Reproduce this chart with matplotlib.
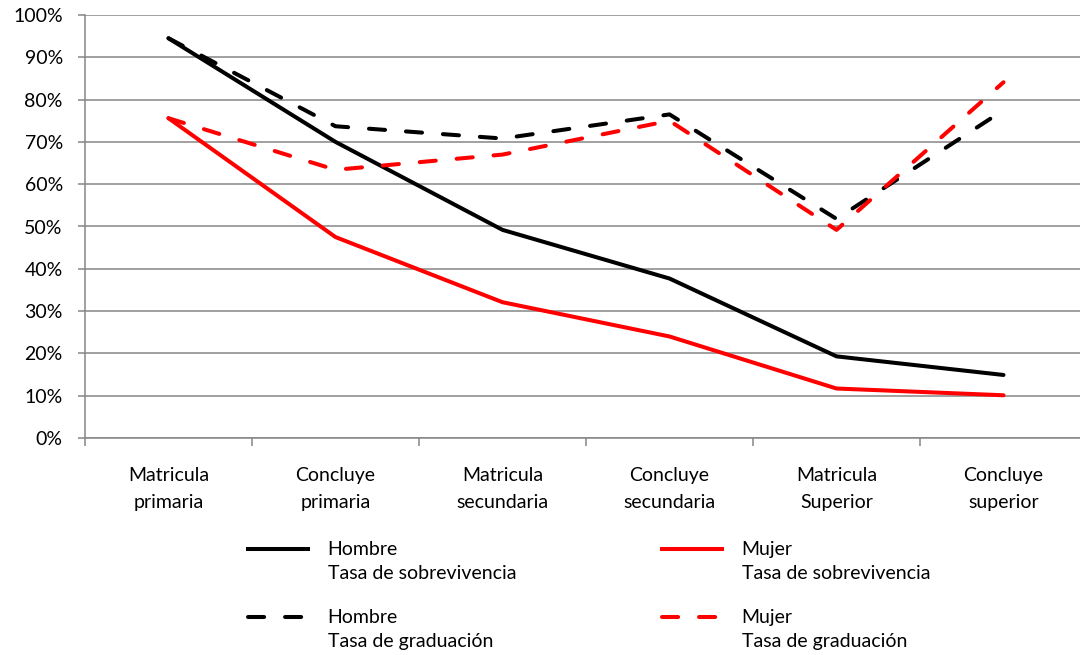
import numpy as np
import matplotlib
matplotlib.use("Agg")
import matplotlib.pyplot as plt
from matplotlib.lines import Line2D
from matplotlib.legend_handler import HandlerLine2D

plt.rcParams['font.family'] = ['Lato', 'DejaVu Sans']

# datos (en %)
categorias = ["Matricula\nprimaria", "Concluye\nprimaria", "Matricula\nsecundaria",
              "Concluye\nsecundaria", "Matricula\nSuperior", "Concluye\nsuperior"]
hombre_sobrev = [94.5, 70.0, 49.2, 37.7, 19.3, 14.9]
mujer_sobrev = [75.6, 47.5, 32.1, 24.0, 11.7, 10.1]
hombre_grad = [94.5, 73.7, 70.8, 76.5, 51.8, 77.5]
mujer_grad = [75.6, 63.4, 67.0, 75.0, 49.2, 84.1]

etiquetas = ["Hombre\nTasa de sobrevivencia", "Mujer\nTasa de sobrevivencia",
             "Hombre\nTasa de graduación", "Mujer\nTasa de graduación"]

GRIS = "#868686"
ROJO = "#ff0000"
DASH = (4, 5.2)


# la línea de la leyenda va a la altura de la primera línea del texto
class HandlerArriba(HandlerLine2D):
    def __init__(self, dy, **kw):
        super().__init__(**kw)
        self.dy = dy

    def create_artists(self, legend, orig_handle, xdescent, ydescent,
                       width, height, fontsize, trans):
        arts = super().create_artists(legend, orig_handle, xdescent, ydescent,
                                      width, height, fontsize, trans)
        for a in arts:
            a.set_ydata(np.asarray(a.get_ydata()) + self.dy)
        return arts


fig = plt.figure(figsize=(10.8, 6.55), dpi=100)
ax = fig.add_axes([85 / 1080, 1 - 438 / 655, 1002 / 1080, 423 / 655])

x = np.arange(len(categorias))
lw = 2.9
ax.plot(x, hombre_sobrev, color="black", lw=lw, solid_capstyle="round")
ax.plot(x, mujer_sobrev, color=ROJO, lw=lw, solid_capstyle="round")
ax.plot(x, hombre_grad, color="black", lw=lw, dashes=DASH, dash_capstyle="round")
ax.plot(x, mujer_grad, color=ROJO, lw=lw, dashes=DASH, dash_capstyle="round")

ax.set_xlim(-0.5, len(categorias) - 0.5)
ax.set_ylim(0, 100)
ax.set_yticks(np.arange(0, 101, 10))
ax.set_yticklabels([f"{v}%" for v in range(0, 101, 10)])
ax.yaxis.grid(True, color=GRIS, lw=1.1)
ax.set_axisbelow(True)

ax.set_xticks(x)
ax.set_xticklabels(categorias, fontsize=14, linespacing=1.7)
ax.set_xticks(np.arange(-0.5, len(categorias), 1), minor=True)
ax.tick_params(axis="x", which="major", length=0, pad=21)
ax.tick_params(axis="x", which="minor", length=6, color=GRIS, width=1.1)
ax.tick_params(axis="y", length=5, color=GRIS, width=1.1, labelsize=14, pad=11)

for s in ["top", "right"]:
    ax.spines[s].set_visible(False)
for s in ["left", "bottom"]:
    ax.spines[s].set_color(GRIS)
    ax.spines[s].set_linewidth(1.1)

# leyenda en dos columnas
h_negro = [Line2D([], [], color="black", lw=lw),
           Line2D([], [], color="black", lw=lw, dashes=DASH, dash_capstyle="round")]
h_rojo = [Line2D([], [], color=ROJO, lw=lw),
          Line2D([], [], color=ROJO, lw=lw, dashes=DASH, dash_capstyle="round")]
kw = dict(frameon=False, fontsize=14, handlelength=3.1, handletextpad=1.0,
          labelspacing=1.4, loc="upper left", borderaxespad=0, borderpad=0,
          handler_map={Line2D: HandlerArriba(9.0)})
leg1 = fig.legend(h_negro, [etiquetas[0], etiquetas[2]],
                  bbox_to_anchor=(248 / 1080, 1 - 541 / 655), **kw)
leg2 = fig.legend(h_rojo, [etiquetas[1], etiquetas[3]],
                  bbox_to_anchor=(662 / 1080, 1 - 541 / 655), **kw)
for leg in (leg1, leg2):
    for t in leg.get_texts():
        t.set_linespacing(1.5)

fig.savefig("out.png", dpi=100)
